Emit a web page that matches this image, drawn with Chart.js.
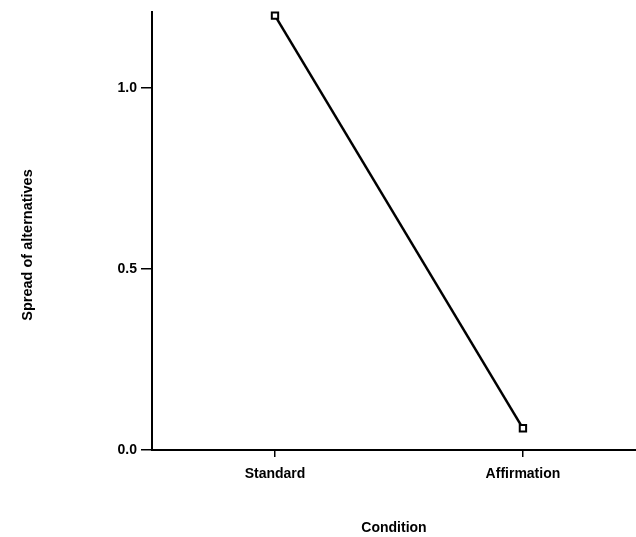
<!DOCTYPE html>
<html>
<head>
<meta charset="utf-8">
<script src="https://cdn.jsdelivr.net/npm/chart.js@4/dist/chart.umd.min.js"></script>
<style>
  html, body { margin: 0; padding: 0; background: #fff; }
  #wrap { width: 636px; height: 537px; }
</style>
</head>
<body>
<div id="wrap"><canvas id="spreadChart"></canvas></div>
<script>
// condicion experimental y dispersion media de las alternativas
const conditions = ['Standard', 'Affirmation'];
const conditionPos = [1, 2];
const spread = [1.2, 0.06];
const yTicks = [0, 0.5, 1.0];

const font = { family: 'Liberation Sans, Arial, sans-serif', size: 14, weight: 'bold' };

// titulo del eje y, algo por debajo del centro del eje
const yTitle = {
    id: 'yTitle',
    afterDraw(chart) {
        const c = chart.ctx;
        const area = chart.chartArea;
        c.save();
        c.translate(28, (area.top + area.bottom) / 2 + 14);
        c.rotate(-Math.PI / 2);
        c.font = 'bold 14.5px Liberation Sans, Arial, sans-serif';
        c.fillStyle = '#000';
        c.textAlign = 'center';
        c.textBaseline = 'middle';
        c.fillText('Spread of alternatives', 0, 0);
        c.restore();
    }
};

const ctx = document.getElementById('spreadChart').getContext('2d');
new Chart(ctx, {
    type: 'line',
    data: {
        datasets: [{
            data: conditionPos.map((x, i) => ({ x: x, y: spread[i] })),
            borderColor: '#000',
            borderWidth: 2.5,
            pointStyle: 'rect',
            pointRadius: 4.5,
            pointBorderWidth: 2,
            pointBackgroundColor: '#fff',
            pointBorderColor: '#000',
            fill: false,
            tension: 0,
            clip: false
        }]
    },
    plugins: [yTitle],
    options: {
        responsive: true,
        maintainAspectRatio: false,
        animation: false,
        layout: { autoPadding: false, padding: { top: 12, right: 0, left: 0, bottom: 0 } },
        plugins: { legend: { display: false }, tooltip: { enabled: false } },
        scales: {
            x: {
                type: 'linear',
                min: 0.504,
                max: 2.456,
                afterBuildTicks: s => { s.ticks = conditionPos.map(v => ({ value: v })); },
                afterFit: s => { s.height = 87; s.paddingLeft = 0; s.paddingRight = 0; },
                ticks: {
                    color: '#000',
                    font: font,
                    padding: 9,
                    callback: v => conditions[conditionPos.indexOf(v)]
                },
                grid: { drawOnChartArea: false, drawTicks: true, tickLength: 7, color: '#000', lineWidth: 1.5 },
                border: { color: '#000', width: 2 },
                title: { display: true, text: 'Condition', color: '#000', font: font, padding: { top: 0, bottom: 0 } }
            },
            y: {
                min: 0,
                max: 1.21,
                afterBuildTicks: s => { s.ticks = yTicks.map(v => ({ value: v })); },
                afterFit: s => { s.width = 152; s.paddingTop = 0; s.paddingBottom = 0; },
                ticks: {
                    color: '#000',
                    font: font,
                    padding: 4,
                    callback: v => v.toFixed(1)
                },
                grid: { drawOnChartArea: false, drawTicks: true, tickLength: 11, color: '#000', lineWidth: 1.5 },
                border: { color: '#000', width: 2 },
                title: { display: false }
            }
        }
    }
});
</script>
</body>
</html>
